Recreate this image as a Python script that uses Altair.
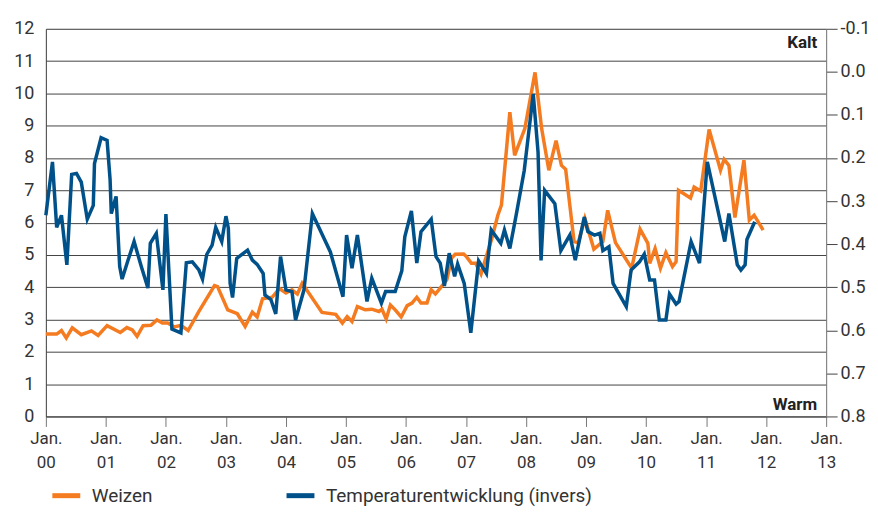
import altair as alt
import pandas as pd

# Weizen (left axis)
weizen_t = [2000.00, 2000.18, 2000.26, 2000.34, 2000.44, 2000.59, 2000.76, 2000.87, 2001.02, 2001.24,
            2001.35, 2001.44, 2001.52, 2001.62, 2001.75, 2001.85, 2001.94, 2002.03, 2002.14, 2002.25,
            2002.37, 2002.55, 2002.81, 2002.86, 2003.03, 2003.19, 2003.32, 2003.44, 2003.52, 2003.61,
            2003.77, 2003.89, 2004.00, 2004.10, 2004.19, 2004.27, 2004.60, 2004.83, 2004.94, 2005.02,
            2005.10, 2005.19, 2005.32, 2005.43, 2005.55, 2005.60, 2005.67, 2005.74, 2005.82, 2005.92,
            2006.02, 2006.10, 2006.18, 2006.25, 2006.35, 2006.42, 2006.49, 2006.57, 2006.68, 2006.76,
            2006.82, 2006.96, 2007.01, 2007.09, 2007.16, 2007.25, 2007.32, 2007.43, 2007.53, 2007.59,
            2007.73, 2007.81, 2007.98, 2008.15, 2008.26, 2008.38, 2008.50, 2008.59, 2008.66, 2008.80,
            2008.87, 2008.98, 2009.13, 2009.28, 2009.36, 2009.49, 2009.76, 2009.90, 2010.03, 2010.06,
            2010.15, 2010.24, 2010.33, 2010.44, 2010.50, 2010.54, 2010.74, 2010.80, 2010.91, 2011.05,
            2011.24, 2011.30, 2011.38, 2011.48, 2011.63, 2011.72, 2011.80, 2011.95]
weizen_v = [2.55, 2.55, 2.66, 2.43, 2.74, 2.53, 2.65, 2.51, 2.81, 2.60,
            2.75, 2.68, 2.48, 2.81, 2.82, 2.99, 2.89, 2.89, 2.77, 2.82,
            2.66, 3.25, 4.05, 4.02, 3.30, 3.18, 2.79, 3.23, 3.08, 3.64,
            3.69, 3.96, 3.82, 3.92, 3.79, 4.12, 3.22, 3.16, 2.89, 3.09,
            2.94, 3.40, 3.30, 3.32, 3.25, 3.32, 3.02, 3.45, 3.30, 3.08,
            3.43, 3.51, 3.69, 3.51, 3.51, 3.92, 3.79, 3.97, 4.23, 4.90,
            5.02, 5.03, 4.94, 4.74, 4.74, 4.41, 4.84, 5.51, 6.23, 6.54,
            9.42, 8.08, 8.91, 10.65, 8.91, 7.62, 8.54, 7.77, 7.65, 5.41,
            5.38, 6.13, 5.18, 5.41, 6.38, 5.38, 4.59, 5.80, 5.36, 4.74,
            5.20, 4.59, 5.07, 4.64, 4.79, 7.00, 6.76, 7.10, 6.98, 8.88,
            7.62, 7.96, 7.77, 6.16, 7.93, 6.08, 6.23, 5.77]

# Temperaturentwicklung (right axis, inverted)
temp_t = [2000.00, 2000.11, 2000.18, 2000.26, 2000.35, 2000.43, 2000.51, 2000.59, 2000.69, 2000.79,
          2000.81, 2000.92, 2001.02, 2001.07, 2001.09, 2001.17, 2001.23, 2001.27, 2001.37, 2001.47,
          2001.59, 2001.70, 2001.74, 2001.84, 2001.95, 2002.00, 2002.10, 2002.25, 2002.34, 2002.44,
          2002.55, 2002.61, 2002.68, 2002.77, 2002.83, 2002.93, 2003.00, 2003.04, 2003.07, 2003.11,
          2003.18, 2003.36, 2003.44, 2003.52, 2003.62, 2003.65, 2003.75, 2003.83, 2003.91, 2004.00,
          2004.10, 2004.16, 2004.30, 2004.44, 2004.74, 2004.95, 2005.01, 2005.10, 2005.19, 2005.35,
          2005.43, 2005.59, 2005.66, 2005.82, 2005.93, 2005.98, 2006.09, 2006.18, 2006.25, 2006.42,
          2006.50, 2006.57, 2006.64, 2006.72, 2006.81, 2006.86, 2006.97, 2007.08, 2007.21, 2007.27,
          2007.34, 2007.42, 2007.58, 2007.64, 2007.73, 2007.84, 2007.97, 2008.12, 2008.20, 2008.25,
          2008.31, 2008.48, 2008.58, 2008.73, 2008.82, 2008.97, 2009.03, 2009.14, 2009.23, 2009.28,
          2009.38, 2009.45, 2009.67, 2009.75, 2009.89, 2009.97, 2010.06, 2010.14, 2010.22, 2010.33,
          2010.39, 2010.50, 2010.55, 2010.75, 2010.89, 2011.02, 2011.31, 2011.38, 2011.52, 2011.58,
          2011.65, 2011.68, 2011.81]
temp_v = [0.333, 0.209, 0.361, 0.333, 0.448, 0.238, 0.236, 0.256, 0.342, 0.310,
          0.213, 0.153, 0.159, 0.250, 0.329, 0.289, 0.452, 0.481, 0.437, 0.394,
          0.452, 0.502, 0.398, 0.375, 0.506, 0.330, 0.597, 0.606, 0.443, 0.441,
          0.460, 0.481, 0.424, 0.402, 0.361, 0.394, 0.335, 0.363, 0.491, 0.524,
          0.433, 0.414, 0.437, 0.447, 0.468, 0.518, 0.529, 0.562, 0.429, 0.506,
          0.510, 0.576, 0.506, 0.329, 0.418, 0.522, 0.379, 0.456, 0.379, 0.533,
          0.479, 0.537, 0.510, 0.510, 0.462, 0.383, 0.323, 0.444, 0.371, 0.342,
          0.429, 0.444, 0.497, 0.421, 0.475, 0.446, 0.491, 0.606, 0.439, 0.452,
          0.468, 0.367, 0.398, 0.367, 0.410, 0.329, 0.229, 0.051, 0.186, 0.438,
          0.275, 0.306, 0.415, 0.379, 0.437, 0.337, 0.371, 0.379, 0.375, 0.415,
          0.406, 0.491, 0.545, 0.460, 0.441, 0.423, 0.483, 0.483, 0.576, 0.576,
          0.516, 0.539, 0.533, 0.394, 0.444, 0.209, 0.394, 0.329, 0.448, 0.460,
          0.448, 0.389, 0.348]

years = list(range(2000, 2014))
left_ticks = list(range(0, 13))
right_ticks = [-0.1, 0.0, 0.1, 0.2, 0.3, 0.4, 0.5, 0.6, 0.7, 0.8]

ORANGE = "#F47B20"
BLUE = "#005189"
FONT = "Roboto"

df_w = pd.DataFrame({"t": weizen_t, "v": weizen_v, "s": "Weizen"})
df_t = pd.DataFrame({"t": temp_t, "v": temp_v, "s": "Temperaturentwicklung (invers)"})

x_enc = alt.X(
    "t:Q",
    scale=alt.Scale(domain=[2000, 2013], nice=False, zero=False),
    axis=alt.Axis(
        values=years, title=None, grid=False,
        labelExpr="['Jan.', slice(toString(datum.value), 2)]",
        labelFlush=False, labelOverlap=False,
        tickSize=10, tickColor="#777", domainColor="#444",
        labelFontSize=17, labelColor="#333", labelFont=FONT,
        labelLineHeight=24, labelPadding=4, labelBaseline="top",
    ),
)

legend_common = dict(
    title=None, orient="none", legendY=452, padding=0,
    symbolType="stroke", symbolSize=784, symbolStrokeWidth=5,
    labelFontSize=19, labelFont=FONT, labelColor="#333", labelOffset=9,
    labelLimit=500,
)

weizen = alt.Chart(df_w).mark_line(strokeWidth=3.5).encode(
    x=x_enc,
    y=alt.Y(
        "v:Q",
        scale=alt.Scale(domain=[0, 12], nice=False),
        axis=alt.Axis(
            values=left_ticks, title=None, orient="left", ticks=False,
            labelPadding=12, labelFontSize=18, labelColor="#333", labelFont=FONT,
            gridColor="#444", gridWidth=1, gridOpacity=1, domainColor="#444",
        ),
    ),
    color=alt.Color(
        "s:N",
        scale=alt.Scale(domain=["Weizen"], range=[ORANGE]),
        legend=alt.Legend(legendX=4, **legend_common),
    ),
)

temp = alt.Chart(df_t).mark_line(strokeWidth=3.5).encode(
    x=alt.X("t:Q"),
    y=alt.Y(
        "v:Q",
        scale=alt.Scale(domain=[-0.1, 0.8], reverse=True, nice=False, zero=False),
        axis=alt.Axis(
            values=right_ticks, title=None, orient="right", grid=False,
            labelExpr="datum.value < 0 ? '-' + format(-datum.value, '.1f') : format(datum.value, '.1f')",
            tickSize=11, tickColor="#444", domainColor="#777",
            labelPadding=3, labelFontSize=18, labelColor="#333", labelFont=FONT,
        ),
    ),
    color=alt.Color(
        "s:N",
        scale=alt.Scale(domain=["Temperaturentwicklung (invers)"], range=[BLUE]),
        legend=alt.Legend(legendX=239, **legend_common),
    ),
)

kalt = alt.Chart(pd.DataFrame({"label": ["Kalt"]})).mark_text(
    align="right", baseline="alphabetic", fontSize=17, fontWeight="bold", font=FONT, color="#222"
).encode(text="label:N", x=alt.value(774), y=alt.value(19))

warm = alt.Chart(pd.DataFrame({"label": ["Warm"]})).mark_text(
    align="right", baseline="alphabetic", fontSize=17, fontWeight="bold", font=FONT, color="#222"
).encode(text="label:N", x=alt.value(774), y=alt.value(383))

chart = alt.layer(weizen, temp, kalt, warm).resolve_scale(
    y="independent", color="independent"
).properties(
    width=783, height=389,
    autosize=alt.AutoSizeParams(type="none"),
    padding={"left": 38, "top": 20, "right": 44, "bottom": 91},
).configure_view(stroke=None).configure(background="white")

chart.save("out.html", embed_options={"renderer": "svg", "actions": False})
